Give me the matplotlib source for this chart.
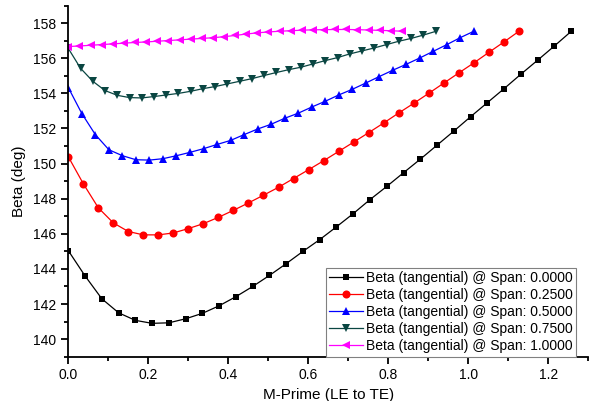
import numpy as np
import matplotlib.pyplot as plt

plt.rcParams['font.family'] = ['Liberation Sans', 'DejaVu Sans']

# end positions of each span line (M-Prime), 31 points each
x_end = [1.257, 1.126, 1.014, 0.918, 0.834]

beta_00 = [145.04, 143.6, 142.3, 141.5, 141.07, 140.9, 140.93, 141.16, 141.47, 141.9,
           142.42, 143.0, 143.63, 144.3, 145.0, 145.67, 146.4, 147.15, 147.95, 148.7,
           149.48, 150.25, 151.05, 151.85, 152.67, 153.47, 154.27, 155.09, 155.89, 156.7,
           157.53]
beta_25 = [150.39, 148.85, 147.48, 146.62, 146.13, 145.94, 145.94, 146.05, 146.3, 146.58,
           146.94, 147.34, 147.76, 148.2, 148.65, 149.15, 149.65, 150.16, 150.69, 151.22,
           151.76, 152.31, 152.88, 153.43, 154.0, 154.58, 155.16, 155.73, 156.33, 156.92,
           157.53]
beta_50 = [154.33, 152.85, 151.65, 150.79, 150.45, 150.22, 150.2, 150.28, 150.45, 150.64,
           150.85, 151.09, 151.32, 151.65, 151.97, 152.24, 152.58, 152.87, 153.22, 153.55,
           153.91, 154.23, 154.59, 154.96, 155.32, 155.66, 156.02, 156.4, 156.78, 157.18,
           157.54]
beta_75 = [156.56, 155.43, 154.69, 154.16, 153.89, 153.76, 153.74, 153.82, 153.91, 154.0,
           154.12, 154.27, 154.39, 154.54, 154.69, 154.84, 155.02, 155.19, 155.35, 155.49,
           155.68, 155.87, 156.04, 156.25, 156.42, 156.59, 156.78, 156.97, 157.13, 157.32,
           157.53]
beta_100 = [156.67, 156.7, 156.74, 156.78, 156.82, 156.86, 156.9, 156.93, 156.97, 157.01,
            157.05, 157.09, 157.13, 157.17, 157.23, 157.3, 157.38, 157.45, 157.5, 157.54,
            157.57, 157.6, 157.62, 157.63, 157.64, 157.64, 157.63, 157.61, 157.59, 157.57,
            157.54]

labels = ['Beta (tangential) @ Span: 0.0000', 'Beta (tangential) @ Span: 0.2500',
          'Beta (tangential) @ Span: 0.5000', 'Beta (tangential) @ Span: 0.7500',
          'Beta (tangential) @ Span: 1.0000']
colors = ['black', '#FF0000', '#0000FF', '#0A4642', '#FF00FF']
markers = ['s', 'o', '^', 'v', '<']
sizes = [5, 5.8, 6, 6, 6]

fig = plt.figure(figsize=(5.92, 4.01), dpi=100)
ax = fig.add_axes([0.1154, 0.1105, 0.8784, 0.8755])

series = [beta_00, beta_25, beta_50, beta_75, beta_100]
for i in range(len(series)):
    x = np.linspace(0, x_end[i], len(series[i]))
    ax.plot(x, series[i], color=colors[i], marker=markers[i], markersize=sizes[i],
            linewidth=0.9, markeredgewidth=0, label=labels[i])

ax.set_xlim(0, 1.3)
ax.set_ylim(139, 159)
ax.set_xticks(np.arange(0, 1.21, 0.2))
ax.set_xticks(np.arange(0.1, 1.31, 0.2), minor=True)
ax.set_yticks(np.arange(140, 159, 2))
ax.set_yticks(np.arange(139, 159.1, 2), minor=True)
ax.xaxis.set_major_formatter(plt.FuncFormatter(lambda v, p: '%.1f' % v))
ax.tick_params(which='major', direction='out', length=5, width=1.3, labelsize=10)
ax.tick_params(which='minor', direction='out', length=3, width=1.3)
ax.spines['top'].set_visible(False)
ax.spines['right'].set_visible(False)
ax.spines['left'].set_linewidth(1.3)
ax.spines['bottom'].set_linewidth(1.3)

ax.set_xlabel('M-Prime (LE to TE)', fontsize=11)
ax.set_ylabel('Beta (deg)', fontsize=11, labelpad=5)

leg = ax.legend(loc='lower right', bbox_to_anchor=(0.977, 0.0), borderaxespad=0,
                fontsize=10, fancybox=False, framealpha=1, edgecolor='#808080',
                labelspacing=0.22, handlelength=2.4, handletextpad=0.25,
                borderpad=0.25)
leg.get_frame().set_linewidth(0.8)

fig.savefig('out.png', dpi=100)
